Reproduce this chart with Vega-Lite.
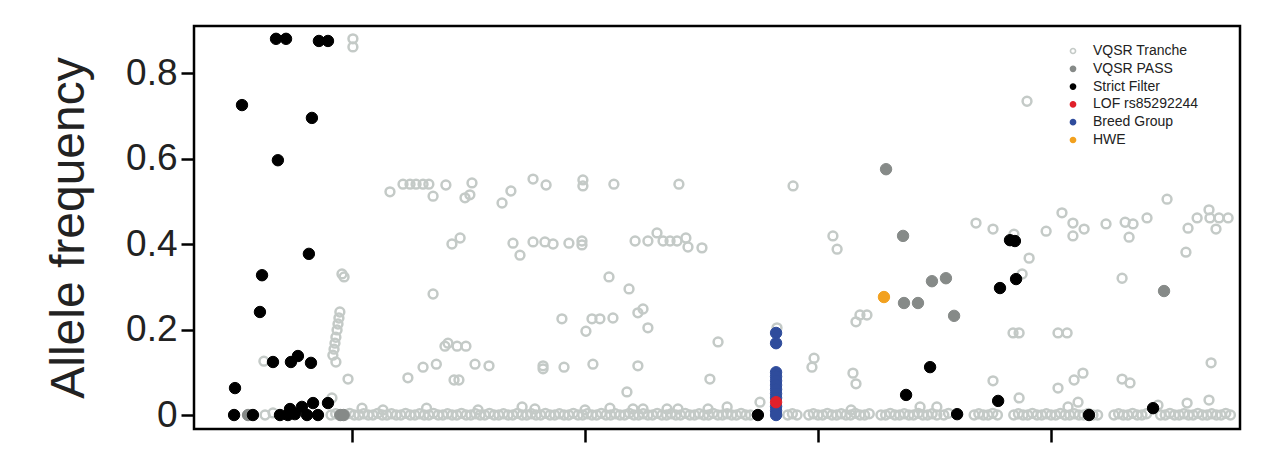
{
"$schema": "https://vega.github.io/schema/vega-lite/v6.json",
"width": 1046, "height": 403,
"autosize": {"type": "none"},
"padding": {"left": 194, "top": 26, "right": 31, "bottom": 40},
"config": {"view": {"stroke": "#000", "strokeWidth": 2.5}, "font": "Liberation Sans"},
"data": {"values": [
{"p":10.04,"a":0.880,"t":"VQSR Tranche"},{"p":10.04,"a":0.861,"t":"VQSR Tranche"},{"p":38.97,"a":0.734,"t":"VQSR Tranche"},
{"p":11.63,"a":0.522,"t":"VQSR Tranche"},{"p":12.19,"a":0.540,"t":"VQSR Tranche"},{"p":12.49,"a":0.540,"t":"VQSR Tranche"},{"p":12.75,"a":0.540,"t":"VQSR Tranche"},{"p":13.05,"a":0.540,"t":"VQSR Tranche"},{"p":13.30,"a":0.540,"t":"VQSR Tranche"},{"p":13.48,"a":0.512,"t":"VQSR Tranche"},{"p":14.03,"a":0.538,"t":"VQSR Tranche"},{"p":14.85,"a":0.508,"t":"VQSR Tranche"},{"p":15.06,"a":0.515,"t":"VQSR Tranche"},{"p":15.15,"a":0.543,"t":"VQSR Tranche"},{"p":16.44,"a":0.496,"t":"VQSR Tranche"},{"p":16.82,"a":0.524,"t":"VQSR Tranche"},{"p":17.77,"a":0.552,"t":"VQSR Tranche"},{"p":18.33,"a":0.538,"t":"VQSR Tranche"},{"p":19.91,"a":0.550,"t":"VQSR Tranche"},{"p":19.91,"a":0.536,"t":"VQSR Tranche"},{"p":21.24,"a":0.540,"t":"VQSR Tranche"},{"p":24.03,"a":0.540,"t":"VQSR Tranche"},{"p":28.93,"a":0.536,"t":"VQSR Tranche"},
{"p":14.29,"a":0.400,"t":"VQSR Tranche"},{"p":14.64,"a":0.414,"t":"VQSR Tranche"},{"p":16.91,"a":0.402,"t":"VQSR Tranche"},{"p":17.21,"a":0.374,"t":"VQSR Tranche"},{"p":17.77,"a":0.405,"t":"VQSR Tranche"},{"p":18.28,"a":0.405,"t":"VQSR Tranche"},{"p":18.63,"a":0.400,"t":"VQSR Tranche"},{"p":19.31,"a":0.402,"t":"VQSR Tranche"},{"p":19.87,"a":0.407,"t":"VQSR Tranche"},{"p":19.87,"a":0.398,"t":"VQSR Tranche"},{"p":22.15,"a":0.407,"t":"VQSR Tranche"},{"p":22.70,"a":0.407,"t":"VQSR Tranche"},{"p":23.09,"a":0.426,"t":"VQSR Tranche"},{"p":23.35,"a":0.407,"t":"VQSR Tranche"},{"p":23.65,"a":0.407,"t":"VQSR Tranche"},{"p":23.95,"a":0.407,"t":"VQSR Tranche"},{"p":24.33,"a":0.414,"t":"VQSR Tranche"},{"p":24.42,"a":0.393,"t":"VQSR Tranche"},{"p":25.02,"a":0.391,"t":"VQSR Tranche"},
{"p":21.03,"a":0.323,"t":"VQSR Tranche"},{"p":21.89,"a":0.295,"t":"VQSR Tranche"},{"p":13.48,"a":0.283,"t":"VQSR Tranche"},{"p":9.57,"a":0.330,"t":"VQSR Tranche"},{"p":9.66,"a":0.323,"t":"VQSR Tranche"},
{"p":9.48,"a":0.241,"t":"VQSR Tranche"},{"p":9.44,"a":0.227,"t":"VQSR Tranche"},{"p":9.40,"a":0.213,"t":"VQSR Tranche"},{"p":9.36,"a":0.199,"t":"VQSR Tranche"},{"p":9.31,"a":0.182,"t":"VQSR Tranche"},{"p":9.27,"a":0.168,"t":"VQSR Tranche"},{"p":9.23,"a":0.154,"t":"VQSR Tranche"},{"p":9.18,"a":0.140,"t":"VQSR Tranche"},{"p":9.31,"a":0.124,"t":"VQSR Tranche"},
{"p":6.22,"a":0.126,"t":"VQSR Tranche"},{"p":9.83,"a":0.084,"t":"VQSR Tranche"},{"p":9.14,"a":0.040,"t":"VQSR Tranche"},{"p":12.40,"a":0.087,"t":"VQSR Tranche"},{"p":13.05,"a":0.112,"t":"VQSR Tranche"},{"p":13.62,"a":0.119,"t":"VQSR Tranche"},
{"p":19.01,"a":0.225,"t":"VQSR Tranche"},{"p":20.30,"a":0.225,"t":"VQSR Tranche"},{"p":20.64,"a":0.225,"t":"VQSR Tranche"},{"p":21.20,"a":0.227,"t":"VQSR Tranche"},{"p":20.04,"a":0.196,"t":"VQSR Tranche"},{"p":22.27,"a":0.239,"t":"VQSR Tranche"},{"p":22.49,"a":0.248,"t":"VQSR Tranche"},{"p":22.70,"a":0.204,"t":"VQSR Tranche"},{"p":25.71,"a":0.171,"t":"VQSR Tranche"},
{"p":13.99,"a":0.161,"t":"VQSR Tranche"},{"p":14.12,"a":0.168,"t":"VQSR Tranche"},{"p":14.51,"a":0.161,"t":"VQSR Tranche"},{"p":14.89,"a":0.161,"t":"VQSR Tranche"},{"p":15.28,"a":0.119,"t":"VQSR Tranche"},{"p":15.88,"a":0.115,"t":"VQSR Tranche"},{"p":18.20,"a":0.115,"t":"VQSR Tranche"},{"p":18.20,"a":0.108,"t":"VQSR Tranche"},{"p":19.10,"a":0.112,"t":"VQSR Tranche"},{"p":20.34,"a":0.119,"t":"VQSR Tranche"},{"p":22.27,"a":0.115,"t":"VQSR Tranche"},{"p":25.36,"a":0.084,"t":"VQSR Tranche"},{"p":14.38,"a":0.082,"t":"VQSR Tranche"},{"p":14.59,"a":0.082,"t":"VQSR Tranche"},{"p":21.80,"a":0.054,"t":"VQSR Tranche"},
{"p":28.24,"a":0.204,"t":"VQSR Tranche"},{"p":29.83,"a":0.133,"t":"VQSR Tranche"},{"p":29.74,"a":0.112,"t":"VQSR Tranche"},{"p":31.50,"a":0.098,"t":"VQSR Tranche"},{"p":31.63,"a":0.073,"t":"VQSR Tranche"},{"p":31.63,"a":0.218,"t":"VQSR Tranche"},{"p":31.80,"a":0.234,"t":"VQSR Tranche"},{"p":32.10,"a":0.234,"t":"VQSR Tranche"},{"p":37.51,"a":0.080,"t":"VQSR Tranche"},{"p":27.51,"a":0.030,"t":"VQSR Tranche"},{"p":34.38,"a":0.019,"t":"VQSR Tranche"},
{"p":30.64,"a":0.419,"t":"VQSR Tranche"},{"p":30.82,"a":0.388,"t":"VQSR Tranche"},{"p":36.78,"a":0.449,"t":"VQSR Tranche"},{"p":37.51,"a":0.435,"t":"VQSR Tranche"},{"p":38.41,"a":0.423,"t":"VQSR Tranche"},{"p":39.79,"a":0.430,"t":"VQSR Tranche"},{"p":40.47,"a":0.473,"t":"VQSR Tranche"},{"p":40.94,"a":0.449,"t":"VQSR Tranche"},{"p":40.94,"a":0.419,"t":"VQSR Tranche"},{"p":41.42,"a":0.435,"t":"VQSR Tranche"},{"p":42.36,"a":0.447,"t":"VQSR Tranche"},{"p":43.18,"a":0.451,"t":"VQSR Tranche"},{"p":43.52,"a":0.447,"t":"VQSR Tranche"},{"p":43.35,"a":0.416,"t":"VQSR Tranche"},{"p":44.12,"a":0.461,"t":"VQSR Tranche"},{"p":44.98,"a":0.505,"t":"VQSR Tranche"},{"p":45.88,"a":0.437,"t":"VQSR Tranche"},{"p":46.27,"a":0.461,"t":"VQSR Tranche"},{"p":46.78,"a":0.480,"t":"VQSR Tranche"},{"p":46.82,"a":0.461,"t":"VQSR Tranche"},{"p":47.21,"a":0.461,"t":"VQSR Tranche"},{"p":47.60,"a":0.461,"t":"VQSR Tranche"},{"p":47.08,"a":0.435,"t":"VQSR Tranche"},{"p":45.79,"a":0.381,"t":"VQSR Tranche"},{"p":39.06,"a":0.367,"t":"VQSR Tranche"},{"p":38.76,"a":0.330,"t":"VQSR Tranche"},{"p":43.05,"a":0.320,"t":"VQSR Tranche"},
{"p":38.37,"a":0.192,"t":"VQSR Tranche"},{"p":38.63,"a":0.192,"t":"VQSR Tranche"},{"p":40.30,"a":0.192,"t":"VQSR Tranche"},{"p":40.69,"a":0.192,"t":"VQSR Tranche"},{"p":41.37,"a":0.098,"t":"VQSR Tranche"},{"p":40.99,"a":0.082,"t":"VQSR Tranche"},{"p":40.30,"a":0.063,"t":"VQSR Tranche"},{"p":43.05,"a":0.084,"t":"VQSR Tranche"},{"p":43.39,"a":0.075,"t":"VQSR Tranche"},{"p":46.87,"a":0.122,"t":"VQSR Tranche"},{"p":38.63,"a":0.040,"t":"VQSR Tranche"},{"p":41.16,"a":0.030,"t":"VQSR Tranche"},{"p":40.73,"a":0.019,"t":"VQSR Tranche"},{"p":45.84,"a":0.028,"t":"VQSR Tranche"},{"p":46.78,"a":0.035,"t":"VQSR Tranche"},{"p":44.59,"a":0.023,"t":"VQSR Tranche"},
{"p":10.43,"a":0.016,"t":"VQSR Tranche"},{"p":11.33,"a":0.012,"t":"VQSR Tranche"},{"p":13.2,"a":0.016,"t":"VQSR Tranche"},{"p":15.41,"a":0.012,"t":"VQSR Tranche"},{"p":17.30,"a":0.019,"t":"VQSR Tranche"},{"p":17.85,"a":0.014,"t":"VQSR Tranche"},{"p":20.0,"a":0.012,"t":"VQSR Tranche"},{"p":21.07,"a":0.016,"t":"VQSR Tranche"},{"p":22.06,"a":0.014,"t":"VQSR Tranche"},{"p":22.49,"a":0.014,"t":"VQSR Tranche"},{"p":23.52,"a":0.014,"t":"VQSR Tranche"},{"p":23.99,"a":0.014,"t":"VQSR Tranche"},{"p":25.28,"a":0.014,"t":"VQSR Tranche"},{"p":26.10,"a":0.019,"t":"VQSR Tranche"},{"p":31.42,"a":0.012,"t":"VQSR Tranche"},{"p":35.1,"a":0.019,"t":"VQSR Tranche"},
{"p":6.27,"a":0,"t":"VQSR Tranche"},{"p":6.61,"a":0.005,"t":"VQSR Tranche"},
{"p":9.1,"a":0,"t":"VQSR Tranche"},{"p":9.3,"a":0.003,"t":"VQSR Tranche"},{"p":9.5,"a":0,"t":"VQSR Tranche"},{"p":9.7,"a":0,"t":"VQSR Tranche"},{"p":9.9,"a":0.004,"t":"VQSR Tranche"},{"p":10.1,"a":0,"t":"VQSR Tranche"},{"p":10.3,"a":0,"t":"VQSR Tranche"},{"p":10.5,"a":0.003,"t":"VQSR Tranche"},{"p":10.7,"a":0,"t":"VQSR Tranche"},{"p":10.9,"a":0,"t":"VQSR Tranche"},{"p":11.1,"a":0.004,"t":"VQSR Tranche"},{"p":11.3,"a":0,"t":"VQSR Tranche"},{"p":11.5,"a":0,"t":"VQSR Tranche"},{"p":11.7,"a":0.003,"t":"VQSR Tranche"},{"p":11.9,"a":0,"t":"VQSR Tranche"},{"p":12.1,"a":0,"t":"VQSR Tranche"},{"p":12.3,"a":0.004,"t":"VQSR Tranche"},{"p":12.5,"a":0,"t":"VQSR Tranche"},{"p":12.7,"a":0,"t":"VQSR Tranche"},{"p":12.9,"a":0.003,"t":"VQSR Tranche"},{"p":13.1,"a":0,"t":"VQSR Tranche"},{"p":13.3,"a":0,"t":"VQSR Tranche"},{"p":13.5,"a":0.004,"t":"VQSR Tranche"},{"p":13.7,"a":0,"t":"VQSR Tranche"},
{"p":13.9,"a":0,"t":"VQSR Tranche"},{"p":14.1,"a":0.003,"t":"VQSR Tranche"},{"p":14.3,"a":0,"t":"VQSR Tranche"},{"p":14.5,"a":0,"t":"VQSR Tranche"},{"p":14.7,"a":0.004,"t":"VQSR Tranche"},{"p":14.9,"a":0,"t":"VQSR Tranche"},{"p":15.1,"a":0,"t":"VQSR Tranche"},{"p":15.3,"a":0.003,"t":"VQSR Tranche"},{"p":15.5,"a":0,"t":"VQSR Tranche"},{"p":15.7,"a":0,"t":"VQSR Tranche"},{"p":15.9,"a":0.004,"t":"VQSR Tranche"},{"p":16.1,"a":0,"t":"VQSR Tranche"},{"p":16.3,"a":0,"t":"VQSR Tranche"},{"p":16.5,"a":0.003,"t":"VQSR Tranche"},{"p":16.7,"a":0,"t":"VQSR Tranche"},{"p":16.9,"a":0,"t":"VQSR Tranche"},{"p":17.1,"a":0.004,"t":"VQSR Tranche"},{"p":17.3,"a":0,"t":"VQSR Tranche"},{"p":17.5,"a":0,"t":"VQSR Tranche"},{"p":17.7,"a":0.003,"t":"VQSR Tranche"},{"p":17.9,"a":0,"t":"VQSR Tranche"},{"p":18.1,"a":0,"t":"VQSR Tranche"},{"p":18.3,"a":0.004,"t":"VQSR Tranche"},{"p":18.5,"a":0,"t":"VQSR Tranche"},{"p":18.7,"a":0,"t":"VQSR Tranche"},{"p":18.9,"a":0.003,"t":"VQSR Tranche"},{"p":19.1,"a":0,"t":"VQSR Tranche"},{"p":19.3,"a":0,"t":"VQSR Tranche"},{"p":19.5,"a":0.004,"t":"VQSR Tranche"},{"p":19.7,"a":0,"t":"VQSR Tranche"},{"p":19.9,"a":0,"t":"VQSR Tranche"},{"p":20.1,"a":0.003,"t":"VQSR Tranche"},{"p":20.3,"a":0,"t":"VQSR Tranche"},{"p":20.5,"a":0,"t":"VQSR Tranche"},{"p":20.7,"a":0.004,"t":"VQSR Tranche"},{"p":20.9,"a":0,"t":"VQSR Tranche"},{"p":21.1,"a":0,"t":"VQSR Tranche"},{"p":21.3,"a":0.003,"t":"VQSR Tranche"},{"p":21.5,"a":0,"t":"VQSR Tranche"},{"p":21.7,"a":0,"t":"VQSR Tranche"},{"p":21.9,"a":0.004,"t":"VQSR Tranche"},{"p":22.1,"a":0,"t":"VQSR Tranche"},{"p":22.3,"a":0,"t":"VQSR Tranche"},{"p":22.5,"a":0.003,"t":"VQSR Tranche"},{"p":22.7,"a":0,"t":"VQSR Tranche"},{"p":22.9,"a":0,"t":"VQSR Tranche"},{"p":23.1,"a":0.004,"t":"VQSR Tranche"},{"p":23.3,"a":0,"t":"VQSR Tranche"},{"p":23.5,"a":0,"t":"VQSR Tranche"},{"p":23.7,"a":0.003,"t":"VQSR Tranche"},{"p":23.9,"a":0,"t":"VQSR Tranche"},{"p":24.1,"a":0,"t":"VQSR Tranche"},{"p":24.3,"a":0.004,"t":"VQSR Tranche"},{"p":24.5,"a":0,"t":"VQSR Tranche"},{"p":24.7,"a":0,"t":"VQSR Tranche"},{"p":24.9,"a":0.003,"t":"VQSR Tranche"},{"p":25.1,"a":0,"t":"VQSR Tranche"},{"p":25.3,"a":0,"t":"VQSR Tranche"},{"p":25.5,"a":0.004,"t":"VQSR Tranche"},{"p":25.7,"a":0,"t":"VQSR Tranche"},{"p":25.9,"a":0,"t":"VQSR Tranche"},{"p":26.1,"a":0.003,"t":"VQSR Tranche"},{"p":26.3,"a":0,"t":"VQSR Tranche"},
{"p":26.5,"a":0,"t":"VQSR Tranche"},{"p":26.7,"a":0.004,"t":"VQSR Tranche"},{"p":26.9,"a":0,"t":"VQSR Tranche"},{"p":27.1,"a":0,"t":"VQSR Tranche"},{"p":28.7,"a":0,"t":"VQSR Tranche"},{"p":28.9,"a":0.003,"t":"VQSR Tranche"},{"p":29.1,"a":0,"t":"VQSR Tranche"},
{"p":29.6,"a":0,"t":"VQSR Tranche"},{"p":29.8,"a":0.003,"t":"VQSR Tranche"},{"p":30.0,"a":0,"t":"VQSR Tranche"},{"p":30.2,"a":0,"t":"VQSR Tranche"},{"p":30.4,"a":0.004,"t":"VQSR Tranche"},{"p":30.6,"a":0,"t":"VQSR Tranche"},{"p":30.8,"a":0,"t":"VQSR Tranche"},{"p":31.0,"a":0.003,"t":"VQSR Tranche"},{"p":31.2,"a":0,"t":"VQSR Tranche"},{"p":31.4,"a":0,"t":"VQSR Tranche"},{"p":31.6,"a":0.004,"t":"VQSR Tranche"},{"p":31.8,"a":0,"t":"VQSR Tranche"},{"p":32.0,"a":0,"t":"VQSR Tranche"},{"p":32.2,"a":0.003,"t":"VQSR Tranche"},
{"p":32.7,"a":0,"t":"VQSR Tranche"},{"p":32.9,"a":0,"t":"VQSR Tranche"},{"p":33.1,"a":0.004,"t":"VQSR Tranche"},{"p":33.3,"a":0,"t":"VQSR Tranche"},{"p":33.5,"a":0,"t":"VQSR Tranche"},{"p":33.7,"a":0.003,"t":"VQSR Tranche"},{"p":33.9,"a":0,"t":"VQSR Tranche"},{"p":34.1,"a":0,"t":"VQSR Tranche"},{"p":34.3,"a":0.004,"t":"VQSR Tranche"},{"p":34.5,"a":0,"t":"VQSR Tranche"},{"p":34.7,"a":0,"t":"VQSR Tranche"},{"p":34.9,"a":0.003,"t":"VQSR Tranche"},{"p":35.1,"a":0,"t":"VQSR Tranche"},{"p":35.4,"a":0,"t":"VQSR Tranche"},{"p":35.6,"a":0.004,"t":"VQSR Tranche"},
{"p":36.7,"a":0,"t":"VQSR Tranche"},{"p":36.9,"a":0.003,"t":"VQSR Tranche"},{"p":37.1,"a":0,"t":"VQSR Tranche"},{"p":37.3,"a":0,"t":"VQSR Tranche"},{"p":37.5,"a":0.004,"t":"VQSR Tranche"},{"p":37.7,"a":0,"t":"VQSR Tranche"},
{"p":38.4,"a":0,"t":"VQSR Tranche"},{"p":38.6,"a":0.003,"t":"VQSR Tranche"},{"p":38.8,"a":0,"t":"VQSR Tranche"},{"p":39.0,"a":0,"t":"VQSR Tranche"},{"p":39.2,"a":0.004,"t":"VQSR Tranche"},{"p":39.4,"a":0,"t":"VQSR Tranche"},{"p":39.6,"a":0,"t":"VQSR Tranche"},{"p":39.8,"a":0.003,"t":"VQSR Tranche"},{"p":40.0,"a":0,"t":"VQSR Tranche"},{"p":40.2,"a":0,"t":"VQSR Tranche"},{"p":40.4,"a":0.004,"t":"VQSR Tranche"},{"p":40.6,"a":0,"t":"VQSR Tranche"},{"p":40.8,"a":0,"t":"VQSR Tranche"},{"p":41.0,"a":0.003,"t":"VQSR Tranche"},{"p":41.2,"a":0,"t":"VQSR Tranche"},{"p":41.4,"a":0,"t":"VQSR Tranche"},{"p":41.6,"a":0.004,"t":"VQSR Tranche"},{"p":41.8,"a":0,"t":"VQSR Tranche"},{"p":42.0,"a":0,"t":"VQSR Tranche"},
{"p":42.7,"a":0,"t":"VQSR Tranche"},{"p":42.9,"a":0.003,"t":"VQSR Tranche"},{"p":43.1,"a":0,"t":"VQSR Tranche"},{"p":43.3,"a":0,"t":"VQSR Tranche"},{"p":43.5,"a":0.004,"t":"VQSR Tranche"},{"p":43.7,"a":0,"t":"VQSR Tranche"},{"p":43.9,"a":0,"t":"VQSR Tranche"},{"p":44.1,"a":0.003,"t":"VQSR Tranche"},
{"p":44.7,"a":0,"t":"VQSR Tranche"},{"p":44.9,"a":0,"t":"VQSR Tranche"},{"p":45.1,"a":0.004,"t":"VQSR Tranche"},{"p":45.3,"a":0,"t":"VQSR Tranche"},{"p":45.5,"a":0,"t":"VQSR Tranche"},{"p":45.7,"a":0.003,"t":"VQSR Tranche"},{"p":45.9,"a":0,"t":"VQSR Tranche"},{"p":46.1,"a":0,"t":"VQSR Tranche"},{"p":46.3,"a":0.004,"t":"VQSR Tranche"},{"p":46.5,"a":0,"t":"VQSR Tranche"},{"p":46.7,"a":0,"t":"VQSR Tranche"},{"p":46.9,"a":0.003,"t":"VQSR Tranche"},{"p":47.1,"a":0,"t":"VQSR Tranche"},{"p":47.3,"a":0,"t":"VQSR Tranche"},{"p":47.5,"a":0.004,"t":"VQSR Tranche"},{"p":47.7,"a":0,"t":"VQSR Tranche"},
{"p":32.92,"a":0.575,"t":"VQSR PASS"},{"p":33.65,"a":0.419,"t":"VQSR PASS"},{"p":34.89,"a":0.313,"t":"VQSR PASS"},{"p":35.49,"a":0.320,"t":"VQSR PASS"},{"p":33.69,"a":0.262,"t":"VQSR PASS"},{"p":34.29,"a":0.262,"t":"VQSR PASS"},{"p":35.84,"a":0.232,"t":"VQSR PASS"},{"p":44.85,"a":0.290,"t":"VQSR PASS"},{"p":5.54,"a":0,"t":"VQSR PASS"},{"p":9.5,"a":0,"t":"VQSR PASS"},{"p":9.64,"a":0,"t":"VQSR PASS"},
{"p":6.74,"a":0.880,"t":"Strict Filter"},{"p":7.17,"a":0.880,"t":"Strict Filter"},{"p":8.58,"a":0.875,"t":"Strict Filter"},{"p":8.97,"a":0.875,"t":"Strict Filter"},{"p":5.28,"a":0.725,"t":"Strict Filter"},{"p":8.28,"a":0.695,"t":"Strict Filter"},{"p":6.82,"a":0.596,"t":"Strict Filter"},{"p":8.15,"a":0.377,"t":"Strict Filter"},{"p":6.14,"a":0.327,"t":"Strict Filter"},{"p":6.05,"a":0.241,"t":"Strict Filter"},{"p":6.61,"a":0.124,"t":"Strict Filter"},{"p":7.38,"a":0.124,"t":"Strict Filter"},{"p":7.68,"a":0.138,"t":"Strict Filter"},{"p":8.24,"a":0.122,"t":"Strict Filter"},{"p":4.98,"a":0.063,"t":"Strict Filter"},{"p":8.97,"a":0.028,"t":"Strict Filter"},{"p":8.33,"a":0.028,"t":"Strict Filter"},{"p":7.85,"a":0.019,"t":"Strict Filter"},{"p":7.34,"a":0.014,"t":"Strict Filter"},{"p":4.94,"a":0,"t":"Strict Filter"},{"p":5.75,"a":0,"t":"Strict Filter"},{"p":6.91,"a":0,"t":"Strict Filter"},{"p":7.25,"a":0,"t":"Strict Filter"},{"p":7.55,"a":0.002,"t":"Strict Filter"},{"p":8.07,"a":0,"t":"Strict Filter"},{"p":8.54,"a":0,"t":"Strict Filter"},
{"p":27.42,"a":0,"t":"Strict Filter"},{"p":33.78,"a":0.047,"t":"Strict Filter"},{"p":34.81,"a":0.112,"t":"Strict Filter"},{"p":35.97,"a":0.002,"t":"Strict Filter"},{"p":37.73,"a":0.033,"t":"Strict Filter"},{"p":37.81,"a":0.297,"t":"Strict Filter"},{"p":38.50,"a":0.318,"t":"Strict Filter"},{"p":38.24,"a":0.409,"t":"Strict Filter"},{"p":38.45,"a":0.407,"t":"Strict Filter"},{"p":41.63,"a":0,"t":"Strict Filter"},{"p":44.38,"a":0.016,"t":"Strict Filter"},
{"p":28.2,"a":0.192,"t":"Breed Group"},{"p":28.2,"a":0.168,"t":"Breed Group"},{"p":28.2,"a":0.100,"t":"Breed Group"},{"p":28.2,"a":0.090,"t":"Breed Group"},{"p":28.2,"a":0.080,"t":"Breed Group"},{"p":28.2,"a":0.070,"t":"Breed Group"},{"p":28.2,"a":0.060,"t":"Breed Group"},{"p":28.2,"a":0.050,"t":"Breed Group"},{"p":28.2,"a":0.040,"t":"Breed Group"},{"p":28.2,"a":0.020,"t":"Breed Group"},{"p":28.2,"a":0.010,"t":"Breed Group"},{"p":28.2,"a":0.0,"t":"Breed Group"},
{"p":28.2,"a":0.030,"t":"LOF rs85292244"},
{"p":32.83,"a":0.276,"t":"HWE"}
]},
"encoding": {
  "x": {"field": "p", "type": "quantitative", "scale": {"domain": [3.22, 48.11], "nice": false, "zero": false},
        "axis": {"values": [10, 20, 30, 40], "labels": false, "title": null, "grid": false, "domain": false, "ticks": true, "tickSize": 13, "tickWidth": 2.5, "tickColor": "#000"}},
  "y": {"field": "a", "type": "quantitative", "scale": {"domain": [-0.0327, 0.91], "nice": false, "zero": false},
        "axis": {"values": [0, 0.2, 0.4, 0.6, 0.8], "labelExpr": "datum.value === 0 ? '0' : format(datum.value, '.1f')", "title": "Allele frequency", "grid": false, "domain": false, "tickSize": 13, "tickWidth": 2.5, "tickColor": "#000", "labelFontSize": 37, "labelColor": "#222", "labelPadding": 4, "titleFontSize": 48, "titleFontWeight": "normal", "titleColor": "#222", "titlePadding": 32}},
  "stroke": {"field": "t", "type": "nominal",
    "scale": {"domain": ["VQSR Tranche", "VQSR PASS", "Strict Filter", "LOF rs85292244", "Breed Group", "HWE"], "range": ["#c4cac7", "#868a88", "#000000", "#e0202a", "#2f4c9c", "#f2a11f"]},
    "legend": {"title": null, "orient": "none", "legendX": 872, "legendY": 18, "padding": 0, "symbolType": "circle", "symbolSize": 26, "symbolStrokeWidth": 1.6, "labelFontSize": 14, "labelColor": "#222", "labelOffset": 13, "rowPadding": 3.8}},
  "fill": {"field": "t", "type": "nominal",
    "scale": {"domain": ["VQSR Tranche", "VQSR PASS", "Strict Filter", "LOF rs85292244", "Breed Group", "HWE"], "range": ["transparent", "#868a88", "#000000", "#e0202a", "#2f4c9c", "#f2a11f"]},
    "legend": {"title": null, "orient": "none", "legendX": 872, "legendY": 18, "padding": 0, "symbolType": "circle", "symbolSize": 26, "symbolStrokeWidth": 1.6, "labelFontSize": 14, "labelColor": "#222", "labelOffset": 13, "rowPadding": 3.8}}
},
"layer": [
  {"transform": [{"filter": "datum.t === 'VQSR Tranche'"}], "mark": {"type": "point", "shape": "circle", "filled": false, "size": 78, "strokeWidth": 2.5, "opacity": 1}},
  {"transform": [{"filter": "datum.t !== 'VQSR Tranche'"}], "mark": {"type": "point", "shape": "circle", "filled": true, "size": 130, "strokeWidth": 1, "opacity": 1}}
]
}
